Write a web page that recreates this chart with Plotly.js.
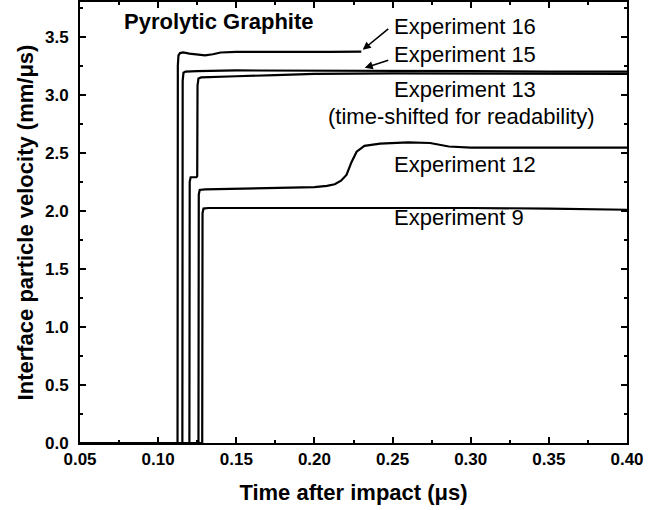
<!DOCTYPE html>
<html>
<head>
<meta charset="utf-8">
<script src="https://cdn.plot.ly/plotly-3.0.1.min.js"></script>
<style>html,body{margin:0;padding:0;background:#fff;}#chart{width:648px;height:510px;}</style>
</head>
<body>
<div id="chart"></div>
<script>
// Experiment 16
var t16 = [0.05, 0.1124, 0.1126, 0.1130, 0.1140, 0.1160, 0.1200, 0.1250, 0.1300, 0.1350, 0.1400, 0.1500, 0.1700, 0.1900, 0.2100, 0.2300];
var v16 = [0, 0, 3.25, 3.34, 3.36, 3.365, 3.355, 3.345, 3.34, 3.35, 3.365, 3.37, 3.368, 3.372, 3.37, 3.372];
// Experiment 15
var t15 = [0.05, 0.1155, 0.1157, 0.1162, 0.1175, 0.125, 0.15, 0.2, 0.25, 0.3, 0.35, 0.4];
var v15 = [0, 0, 3.12, 3.19, 3.2, 3.205, 3.21, 3.21, 3.21, 3.205, 3.2, 3.2];
// Experiment 13 (time-shifted)
var t13 = [0.05, 0.1200, 0.1202, 0.1208, 0.1245, 0.1250, 0.1252, 0.1258, 0.1275, 0.135, 0.15, 0.175, 0.2, 0.25, 0.3, 0.35, 0.4];
var v13 = [0, 0, 2.25, 2.29, 2.29, 2.30, 3.08, 3.14, 3.15, 3.155, 3.16, 3.17, 3.18, 3.185, 3.185, 3.185, 3.18];
// Experiment 12
var t12 = [0.05, 0.1258, 0.1260, 0.1266, 0.1300, 0.1500, 0.1750, 0.2000, 0.2080, 0.2130, 0.2170, 0.2205, 0.2237, 0.2270, 0.2320, 0.2420, 0.2600, 0.2740, 0.2860, 0.3000, 0.3500, 0.4000];
var v12 = [0, 0, 2.14, 2.18, 2.185, 2.19, 2.195, 2.205, 2.215, 2.23, 2.26, 2.31, 2.42, 2.51, 2.56, 2.58, 2.59, 2.585, 2.555, 2.545, 2.545, 2.545];
// Experiment 9
var t9 = [0.05, 0.1282, 0.1284, 0.1290, 0.1320, 0.1500, 0.2000, 0.2500, 0.3000, 0.3500, 0.4000];
var v9 = [0, 0, 1.98, 2.02, 2.025, 2.025, 2.03, 2.03, 2.025, 2.02, 2.01];

var xTickVals = [0.05, 0.10, 0.15, 0.20, 0.25, 0.30, 0.35, 0.40];
var yTickVals = [0.0, 0.5, 1.0, 1.5, 2.0, 2.5, 3.0, 3.5];

var labels = ["Experiment 16", "Experiment 15", "Experiment 13", "(time-shifted for readability)", "Experiment 12", "Experiment 9"];

var F = "Arial, 'Liberation Sans', sans-serif";
function tr(x, y, name) {
  return {x: x, y: y, name: name, type: 'scatter', mode: 'lines',
          line: {color: '#000', width: 2.2}, showlegend: false, hoverinfo: 'skip'};
}
var data = [tr(t16, v16, 'Exp 16'), tr(t15, v15, 'Exp 15'), tr(t13, v13, 'Exp 13'), tr(t12, v12, 'Exp 12'), tr(t9, v9, 'Exp 9')];

function lab(text, x, y) {
  return {text: text, x: x, y: y, xref: 'x', yref: 'y', xanchor: 'left', yanchor: 'middle',
          showarrow: false, font: {family: F, size: 22, color: '#000'}};
}
var ann = [
  lab(labels[0], 0.2495, 3.586),
  lab(labels[1], 0.2495, 3.345),
  lab(labels[2], 0.2495, 3.043),
  lab(labels[3], 0.2075, 2.810),
  lab(labels[4], 0.2495, 2.397),
  lab(labels[5], 0.2495, 1.940),
  {text: 'Pyrolytic Graphite', x: 0.0766, y: 3.629, xref: 'x', yref: 'y', xanchor: 'left', yanchor: 'middle',
   showarrow: false, font: {family: F, size: 22, color: '#000', weight: 'bold'}},
  {text: '', x: 0.2309, y: 3.388, ax: 0.2482, ay: 3.578, xref: 'x', yref: 'y', axref: 'x', ayref: 'y',
   showarrow: true, arrowhead: 2, arrowsize: 1, arrowwidth: 1.6, arrowcolor: '#000', standoff: 0},
  {text: '', x: 0.2322, y: 3.233, ax: 0.2482, ay: 3.302, xref: 'x', yref: 'y', axref: 'x', ayref: 'y',
   showarrow: true, arrowhead: 2, arrowsize: 1, arrowwidth: 1.6, arrowcolor: '#000', standoff: 0}
];

var layout = {
  width: 648, height: 510,
  margin: {l: 80, r: 21, t: 2, b: 67},
  paper_bgcolor: '#fff', plot_bgcolor: '#fff',
  showlegend: false,
  xaxis: {
    range: [0.05, 0.40], tickvals: xTickVals, tickformat: '.2f',
    ticks: 'inside', ticklen: 6, tickwidth: 2, tickcolor: '#000',
    minor: {dtick: 0.025, tick0: 0.05, ticks: 'inside', ticklen: 3, tickwidth: 2, tickcolor: '#000'},
    showline: true, linecolor: '#000', linewidth: 2, mirror: 'ticks',
    showgrid: false, zeroline: false,
    tickfont: {family: F, size: 17, color: '#000', weight: 'bold'},
    title: {text: 'Time after impact (\u03bcs)', standoff: 16, font: {family: F, size: 22, color: '#000', weight: 'bold'}}
  },
  yaxis: {
    range: [0, 3.8], tickvals: yTickVals, tickformat: '.1f',
    ticks: 'inside', ticklen: 6, tickwidth: 2, tickcolor: '#000',
    minor: {dtick: 0.25, tick0: 0, ticks: 'inside', ticklen: 3, tickwidth: 2, tickcolor: '#000'},
    showline: true, linecolor: '#000', linewidth: 2, mirror: 'ticks',
    showgrid: false, zeroline: false,
    ticklabelstandoff: 6,
    tickfont: {family: F, size: 17, color: '#000', weight: 'bold'},
    title: {text: 'Interface particle velocity (mm/\u03bcs)', standoff: 5, font: {family: F, size: 22, color: '#000', weight: 'bold'}}
  },
  annotations: ann
};
Plotly.newPlot('chart', data, layout, {staticPlot: true, displayModeBar: false});
</script>
</body>
</html>
